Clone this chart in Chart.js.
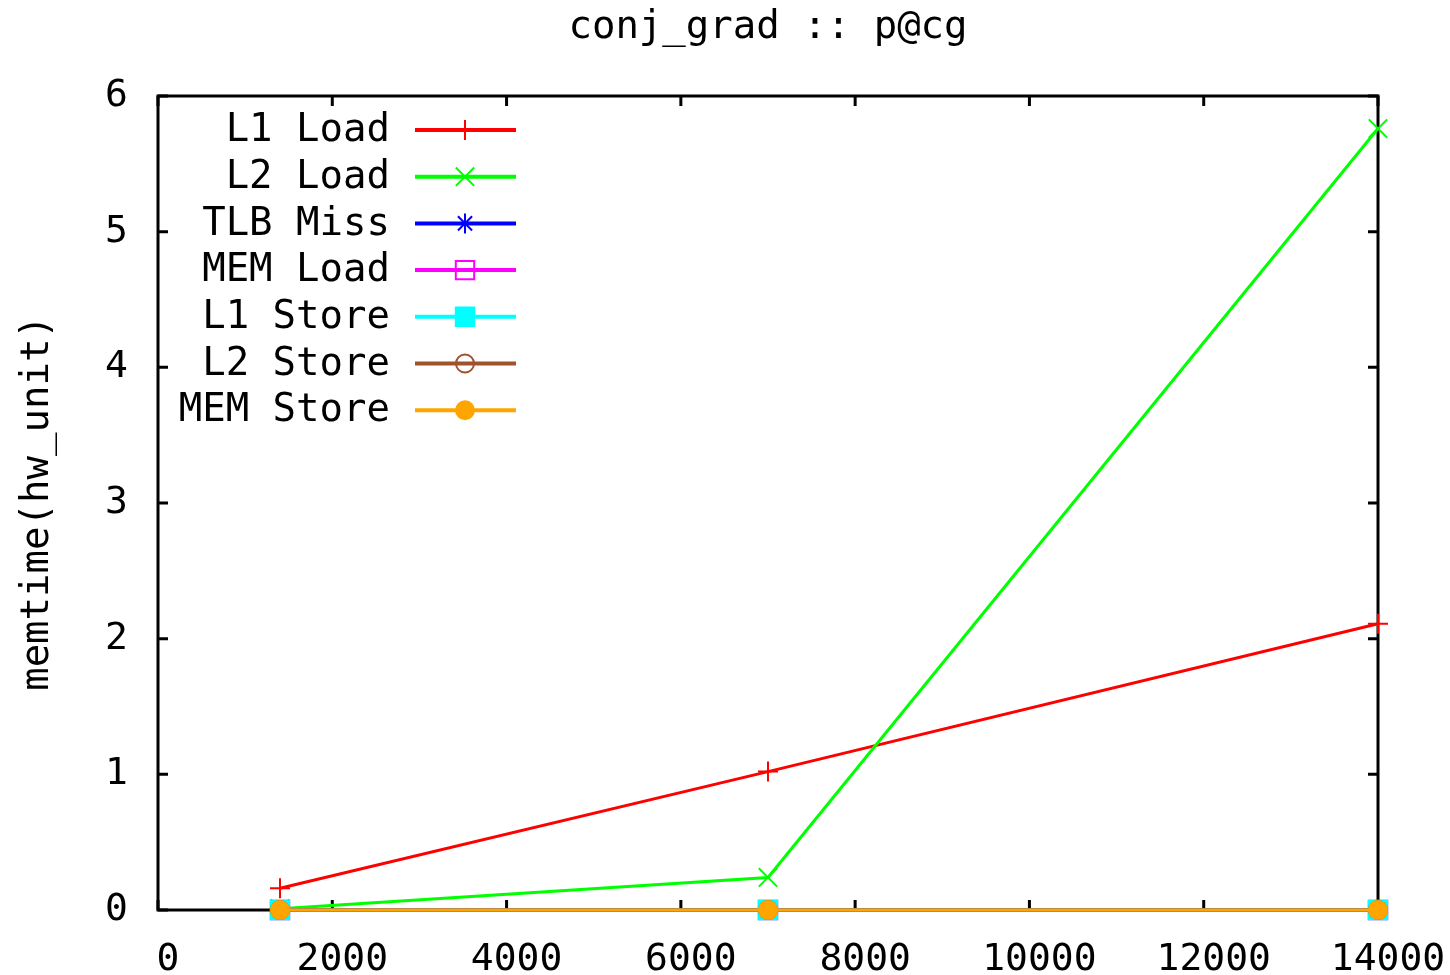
<!DOCTYPE html>
<html>
<head>
<meta charset="utf-8">
<script src="https://cdn.jsdelivr.net/npm/chart.js@4.4.1/dist/chart.umd.min.js"></script>
<style>
  body { margin: 0; background: #fff; }
  canvas { display: block; }
</style>
</head>
<body>
<canvas id="grafico" width="1450" height="975"></canvas>
<script>
const tamanhos = [1400, 7000, 14000];
const series = ['L1 Load', 'L2 Load', 'TLB Miss', 'MEM Load', 'L1 Store', 'L2 Store', 'MEM Store'];
const l1Load = [0.16, 1.02, 2.11];
const l2Load = [0.01, 0.24, 5.76];
const tlbMiss = [0, 0, 0];
const memLoad = [0, 0, 0];
const l1Store = [0, 0, 0];
const l2Store = [0, 0, 0];
const memStore = [0, 0, 0];
const valores = [l1Load, l2Load, tlbMiss, memLoad, l1Store, l2Store, memStore];
const yTicks = [0, 1, 2, 3, 4, 5, 6];
const xTicks = [0, 2000, 4000, 6000, 8000, 10000, 12000, 14000];

const cores = ['#ff0000', '#00ff00', '#0000ff', '#ff00ff', '#00ffff', '#a0522d', '#ffa500'];
const marcadores = ['cross', 'crossRot', 'star', 'rect', 'rect', 'circle', 'circle'];
const raios = [10, 13, 10, 13, 13, 9, 9];
const cheios = [true, true, true, false, true, false, true];
const fonte = 'DejaVu Sans Mono';

// moldura e ticks para dentro, estilo gnuplot
const moldura = {
    id: 'moldura',
    beforeDatasetsDraw(chart) {
        const { ctx, chartArea: a, scales } = chart;
        ctx.save();
        ctx.strokeStyle = '#000';
        ctx.lineWidth = 3;
        ctx.strokeRect(a.left, a.top, a.right - a.left, a.bottom - a.top);
        ctx.beginPath();
        xTicks.forEach(v => {
            const x = scales.x.getPixelForValue(v);
            ctx.moveTo(x, a.bottom); ctx.lineTo(x, a.bottom - 10);
            ctx.moveTo(x, a.top); ctx.lineTo(x, a.top + 10);
        });
        yTicks.forEach(v => {
            const y = scales.y.getPixelForValue(v);
            ctx.moveTo(a.left, y); ctx.lineTo(a.left + 10, y);
            ctx.moveTo(a.right, y); ctx.lineTo(a.right - 10, y);
        });
        ctx.stroke();
        ctx.restore();
    }
};

// legenda com texto à direita e amostra de linha
const legenda = {
    id: 'legenda',
    afterDraw(chart) {
        const ctx = chart.ctx;
        ctx.save();
        chart.data.datasets.forEach((ds, i) => {
            const y = 130 + i * 46.7;
            ctx.font = '39px "' + fonte + '"';
            ctx.fillStyle = '#000';
            ctx.textAlign = 'right';
            ctx.textBaseline = 'middle';
            ctx.fillText(ds.label, 390, y + 1);
            ctx.strokeStyle = ds.borderColor;
            ctx.lineWidth = 4;
            ctx.beginPath();
            ctx.moveTo(415, y); ctx.lineTo(516, y);
            ctx.stroke();
            ctx.fillStyle = cheios[i] ? ds.borderColor : 'rgba(0,0,0,0)';
            ctx.lineWidth = 2;
            Chart.helpers.drawPoint(ctx, {
                pointStyle: ds.pointStyle, radius: ds.pointRadius, rotation: 0, borderWidth: 2
            }, 465, y);
        });
        ctx.restore();
    }
};

new Chart(document.getElementById('grafico'), {
    type: 'line',
    data: {
        datasets: series.map((nome, i) => ({
            label: nome,
            data: tamanhos.map((t, j) => ({ x: t, y: valores[i][j] })),
            borderColor: cores[i],
            backgroundColor: cores[i],
            borderWidth: 3,
            pointStyle: marcadores[i],
            pointRadius: raios[i],
            pointBorderWidth: 2,
            pointBorderColor: cores[i],
            pointBackgroundColor: cheios[i] ? cores[i] : 'rgba(0,0,0,0)',
            tension: 0,
            clip: false,
            order: series.length - i
        }))
    },
    options: {
        responsive: false,
        animation: false,
        devicePixelRatio: 1,
        layout: { padding: { left: 0, right: 72, top: 0, bottom: 0 } },
        plugins: {
            legend: { display: false },
            tooltip: { enabled: false },
            title: {
                display: true,
                fullSize: false,
                text: 'conj_grad :: p@cg',
                color: '#000',
                font: { family: fonte, size: 39, weight: 'normal' },
                padding: { top: 4, bottom: 45.2 }
            }
        },
        scales: {
            x: {
                type: 'linear',
                min: 0,
                max: 14000,
                afterFit(s) { s.height = 65; s.paddingLeft = 0; s.paddingRight = 0; },
                afterBuildTicks(s) { s.ticks = xTicks.map(v => ({ value: v })); },
                grid: { display: false },
                border: { display: false },
                ticks: {
                    color: '#000',
                    font: { family: fonte, size: 38 },
                    padding: 19,
                    labelOffset: 10,
                    maxRotation: 0,
                    autoSkip: false,
                    callback: v => String(v)
                }
            },
            y: {
                min: 0,
                max: 6,
                afterFit(s) { s.width = 158; s.paddingTop = 0; s.paddingBottom = 0; },
                afterBuildTicks(s) { s.ticks = yTicks.map(v => ({ value: v })); },
                grid: { display: false },
                border: { display: false },
                ticks: {
                    color: '#000',
                    font: { family: fonte, size: 38 },
                    padding: 22,
                    callback: v => String(v)
                },
                title: {
                    display: true,
                    text: 'memtime(hw_unit)',
                    color: '#000',
                    font: { family: fonte, size: 39 },
                    padding: { top: 14, bottom: 0 }
                }
            }
        }
    },
    plugins: [moldura, legenda]
});
</script>
</body>
</html>
